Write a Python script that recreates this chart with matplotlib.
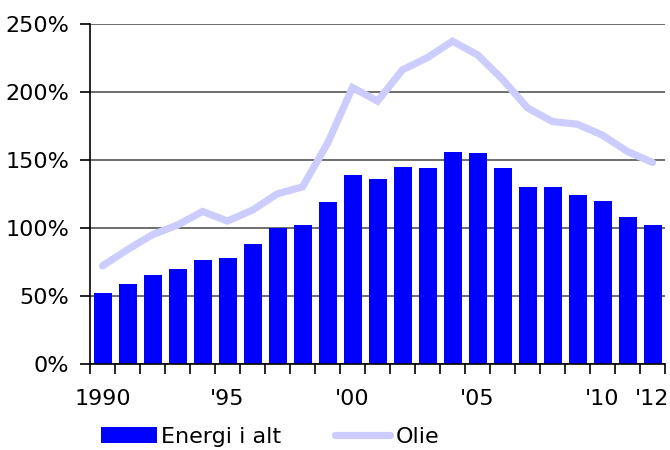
import matplotlib.pyplot as plt
import numpy as np

years = list(range(1990, 2013))
energi = [52, 59, 65, 70, 76, 78, 88, 100, 102, 119, 139, 136, 145, 144, 156, 155,
          144, 130, 130, 124, 120, 108, 102]
olie = [72, 84, 95, 102, 112, 105, 113, 125, 130, 162, 203, 193, 216, 225, 237, 227,
        209, 188, 178, 176, 168, 156, 148]
tick_labels = {1990: '1990', 1995: "'95", 2000: "'00", 2005: "'05", 2010: "'10", 2012: "'12"}

fs = 16
fig = plt.figure(figsize=(6.7, 4.5), dpi=100)
ax = fig.add_axes([90 / 670, 86 / 450, 575 / 670, 340.5 / 450])

x = np.arange(len(years))
bars = ax.bar(x, energi, width=0.72, color='#0000ff', zorder=2, label='Energi i alt')
line, = ax.plot(x, olie, color='#ccccff', lw=5.2, solid_capstyle='round',
                solid_joinstyle='miter', zorder=3, label='Olie')

ax.set_xlim(-0.5, len(years) - 0.5)
ax.set_ylim(0, 250)
ax.set_yticks([0, 50, 100, 150, 200, 250])
ax.set_yticklabels([f'{v}%' for v in [0, 50, 100, 150, 200, 250]])
ax.yaxis.grid(True, color='#555555', lw=1.2, zorder=0)
ax.set_axisbelow(True)

# ticks on category boundaries, labels at centres
ax.set_xticks(np.arange(len(years) + 1) - 0.5)
ax.set_xticklabels([])
ax.set_xticks([years.index(y) for y in tick_labels], minor=True)
ax.set_xticklabels(list(tick_labels.values()), minor=True)
ax.tick_params(axis='x', which='major', length=7, width=1.2, color='black')
ax.tick_params(axis='x', which='minor', length=0, pad=18, labelsize=fs)
ax.tick_params(axis='y', length=7, width=1.2, pad=8, labelsize=fs)

for s in ['top', 'right']:
    ax.spines[s].set_visible(False)
ax.spines['left'].set_linewidth(1.2)
ax.spines['bottom'].set_linewidth(1.2)

fig.legend(handles=[bars, line], loc='center left', bbox_to_anchor=(101 / 670, 13 / 450),
           ncol=2, frameon=False, fontsize=fs, borderpad=0, borderaxespad=0,
           handlelength=2.5, handletextpad=0.22, columnspacing=2.4)

fig.savefig('out.png', dpi=100)
